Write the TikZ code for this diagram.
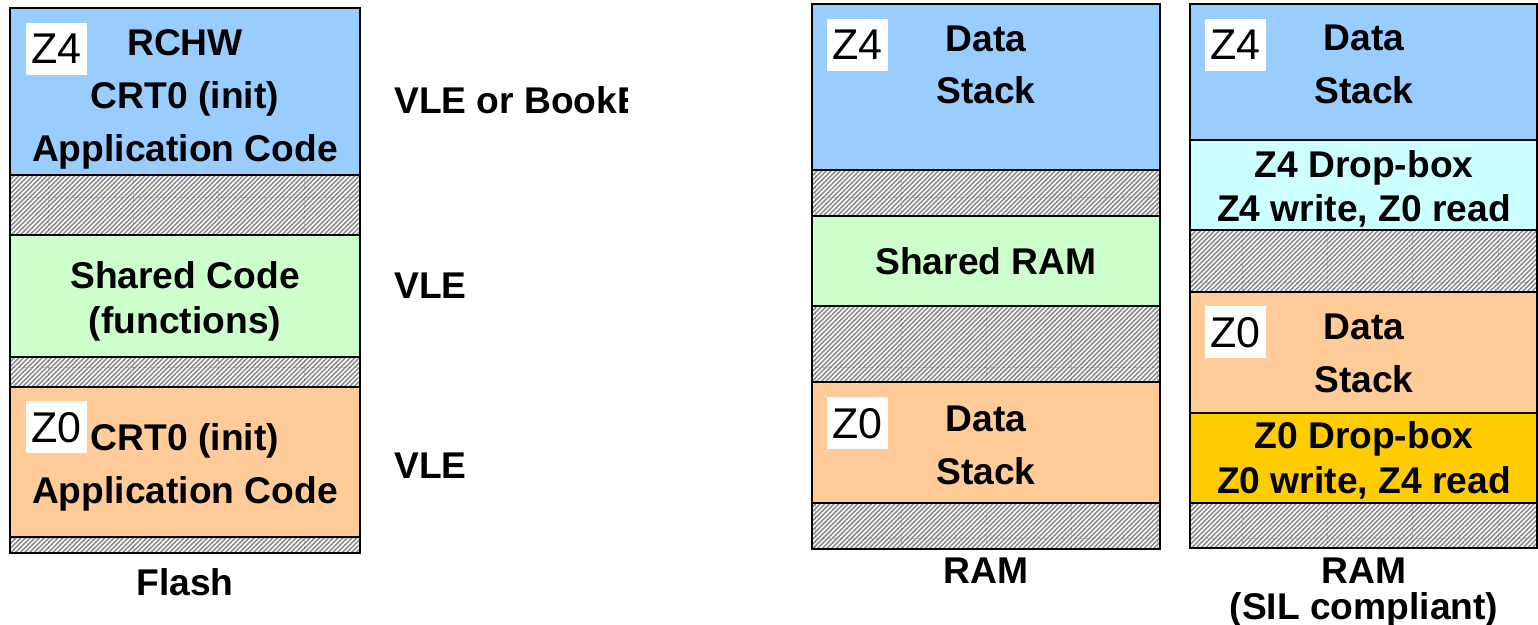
\documentclass[tikz,border=0pt]{standalone}
\usepackage{fontspec}
\setmainfont{Liberation Sans}
\usetikzlibrary{patterns.meta}

\definecolor{memblue}{RGB}{153,204,255}
\definecolor{memgreen}{RGB}{204,255,204}
\definecolor{memorange}{RGB}{255,204,153}
\definecolor{memcyan}{RGB}{204,255,255}
\definecolor{memyellow}{RGB}{255,204,0}
\definecolor{hatchgray}{RGB}{140,140,140}

\tikzset{
  band/.style={draw=black, line width=2pt},
  hatchband/.style={pattern={Lines[angle=45,distance=3.3pt,line width=1.6pt]}, pattern color=hatchgray},
  colframe/.style={draw=black, line width=2.6pt},
  txt/.style={font=\fontsize{37.2}{45}\selectfont\bfseries, inner sep=0pt, anchor=base},
  isa/.style={font=\fontsize{37.2}{45}\selectfont\bfseries, inner sep=0pt, anchor=base west},
  zone/.style={fill=white, minimum width=61pt, minimum height=52pt, inner sep=0pt,
               anchor=north west, font=\fontsize{43}{43}\selectfont},
  seam/.style={draw=black!70, line width=0.8pt, dash pattern=on 3pt off 3pt, opacity=0.3},
}

% unused / reserved address range: striped fill with faint tile seams
\newcommand\memhatch[4]{%
  \fill[white] (#1,#2) rectangle (#3,#4);
  \fill[hatchband] (#1,#2) rectangle (#3,#4);
  \begin{scope}
    \clip (#1,#2) rectangle (#3,#4);
    \foreach \k in {0,...,17} {\draw[seam] (48+85.3*\k,0) -- (48+85.3*\k,624);}
    \foreach \k in {0,...,6} {\draw[seam] (0,26.4+85.3*\k) -- (1538,26.4+85.3*\k);}
  \end{scope}
  \draw[band] (#1,#2) rectangle (#3,#4);
}

\begin{document}
\begin{tikzpicture}[x=1pt, y=-1pt]
\useasboundingbox (0,0) rectangle (1538,624);

% ---------------- Flash ----------------
\draw[band, fill=memblue]   (10,8)   rectangle (360,175);
\memhatch{10}{175}{360}{235}
\draw[band, fill=memgreen]  (10,235) rectangle (360,357);
\memhatch{10}{357}{360}{387}
\draw[band, fill=memorange] (10,387) rectangle (360,537);
\memhatch{10}{537}{360}{553}
\draw[colframe] (10,8) rectangle (360,553);

\node[zone] (fz4) at (26,23)  {Z4};
\node[zone] (fz0) at (26,401) {Z0};
\node[txt] (frchw)  at (185,55)  {RCHW};
\node[txt] (fcrtA)  at (185,108) {CRT0 (init)};
\node[txt] (fappA)  at (185,161) {Application Code};
\node[txt] (fshA)   at (185,288) {Shared Code};
\node[txt] (fshB)   at (185,333) {(functions)};
\node[txt] (fcrtB)  at (185,450) {CRT0 (init)};
\node[txt] (fappB)  at (185,503) {Application Code};
\node[txt] (flashlbl) at (185,595) {Flash};

% instruction set of each flash region
\begin{scope}
  \clip (380,0) rectangle (627,200);
  \node[isa] (isaA) at (394,113) {VLE or BookE};
\end{scope}
\node[isa] (isaB) at (394,298) {VLE};
\node[isa] (isaC) at (394,478) {VLE};

% ---------------- RAM ----------------
\draw[band, fill=memblue]   (812,4)   rectangle (1160,170);
\memhatch{812}{170}{1160}{216}
\draw[band, fill=memgreen]  (812,216) rectangle (1160,306);
\memhatch{812}{306}{1160}{382}
\draw[band, fill=memorange] (812,382) rectangle (1160,503);
\memhatch{812}{503}{1160}{549}
\draw[colframe] (812,4) rectangle (1160,549);

\node[zone] (rz4) at (827,19)  {Z4};
\node[zone] (rz0) at (827,397) {Z0};
\node[txt] (rdataA)  at (986,51)  {Data};
\node[txt] (rstackA) at (986,103) {Stack};
\node[txt] (rshared) at (986,274) {Shared RAM};
\node[txt] (rdataB)  at (986,431) {Data};
\node[txt] (rstackB) at (986,484) {Stack};
\node[txt] (ramlbl)  at (986,583) {RAM};

% ---------------- RAM (SIL compliant) ----------------
\draw[band, fill=memblue]   (1190,4)   rectangle (1537,140);
\draw[band, fill=memcyan]   (1190,140) rectangle (1537,230);
\memhatch{1190}{230}{1537}{292}
\draw[band, fill=memorange] (1190,292) rectangle (1537,413);
\draw[band, fill=memyellow] (1190,413) rectangle (1537,503);
\memhatch{1190}{503}{1537}{548}
\draw[colframe] (1190,4) rectangle (1537,548);

\node[zone] (sz4) at (1205,19)  {Z4};
\node[zone] (sz0) at (1205,306) {Z0};
\node[txt] (sdataA)  at (1364,50)  {Data};
\node[txt] (sstackA) at (1364,103) {Stack};
\node[txt] (sdropA)  at (1364,177) {Z4 Drop-box};
\node[txt] (saccA)   at (1364,221) {Z4 write, Z0 read};
\node[txt] (sdataB)  at (1364,339) {Data};
\node[txt] (sstackB) at (1364,392) {Stack};
\node[txt] (sdropB)  at (1364,448) {Z0 Drop-box};
\node[txt] (saccB)   at (1364,493) {Z0 write, Z4 read};
\node[txt] (silram)  at (1364,583) {RAM};
\node[txt] (sillbl)  at (1364,619) {(SIL compliant)};
\end{tikzpicture}
\end{document}
